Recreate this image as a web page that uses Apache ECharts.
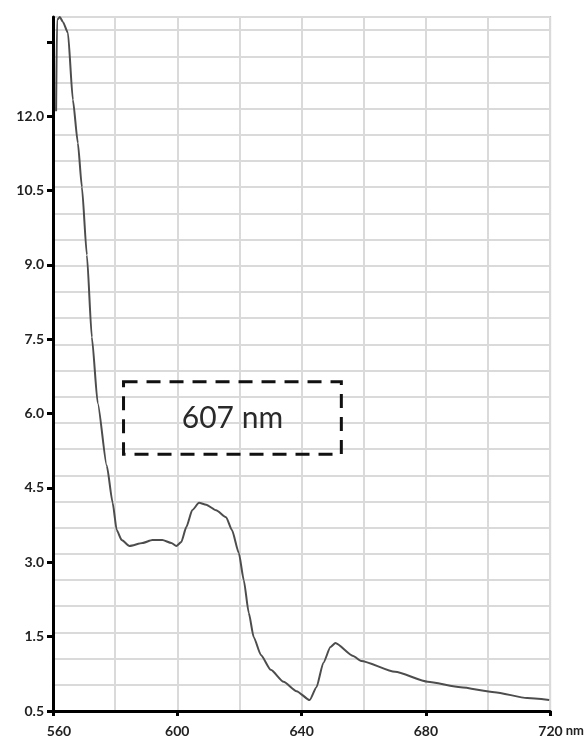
<!DOCTYPE html>
<html>
<head>
<meta charset="utf-8">
<script src="https://cdn.jsdelivr.net/npm/echarts@6/dist/echarts.min.js"></script>
<style>
html,body{margin:0;padding:0;background:#fff;}
#chart{width:587px;height:742px;}
</style>
</head>
<body>
<div id="chart"></div>
<script>
// ---- data ----
const wavelength = [561.0, 561.3, 562.2, 563.2, 564.8, 566.4, 568.0, 569.3, 570.9, 572.5,
  574.4, 577.3, 579.2, 580.5, 582.1, 584.6, 588.8, 592.0, 595.2, 598.1,
  599.7, 601.3, 602.9, 604.8, 607.0, 609.3, 612.5, 615.7, 617.6, 619.8,
  621.4, 623.0, 624.6, 626.9, 630.1, 634.2, 638.4, 642.6, 644.8, 647.0,
  649.3, 650.9, 656.6, 659.2, 670.1, 680.6, 691.2, 702.1, 712.6, 719.7];
const absorbance = [12.1, 13.94, 14.0, 13.9, 13.68, 12.33, 11.46, 10.57, 9.2, 7.54,
  6.21, 4.95, 4.20, 3.65, 3.45, 3.33, 3.39, 3.45, 3.45, 3.39,
  3.33, 3.41, 3.71, 4.05, 4.20, 4.16, 4.05, 3.91, 3.65, 3.19,
  2.64, 1.98, 1.49, 1.13, 0.83, 0.59, 0.40, 0.22, 0.48, 0.97,
  1.29, 1.37, 1.11, 1.01, 0.79, 0.59, 0.48, 0.38, 0.26, 0.22];
const xTickValues = [560, 600, 640, 680, 720];
const xTickLabels = ['560', '600', '640', '680', '720'];
const xUnit = 'nm';
const yTickValues = [0, 1.5, 3.0, 4.5, 6.0, 7.5, 9.0, 10.5, 12.0, 13.5];
const yTickLabels = ['0.5', '1.5', '3.0', '4.5', '6.0', '7.5', '9.0', '10.5', '12.0', ''];
const annotationText = '607 nm';
const annotationX = [582.7, 652.8];
const annotationY = [5.18, 6.64];

const seriesData = wavelength.map((w, i) => [w, absorbance[i]]);

function lookup(vals, labels, v) {
  for (let i = 0; i < vals.length; i++) {
    if (Math.abs(vals[i] - v) < 1e-6) return labels[i];
  }
  return '';
}

const chart = echarts.init(document.getElementById('chart'));
const labelFont = { fontFamily: 'Lato', fontWeight: 'bold', fontSize: 14, color: '#222' };

chart.setOption({
  animation: false,
  backgroundColor: '#fff',
  grid: {
    left: 53, right: 34, top: 17, bottom: 31,
    show: true, borderColor: '#c4c4c4', borderWidth: 2, backgroundColor: 'transparent'
  },
  xAxis: [
    {
      type: 'value', min: 560, max: 720, interval: 40, z: 5,
      axisLine: { show: true, lineStyle: { color: '#000', width: 3 } },
      axisTick: { show: true, length: 5, lineStyle: { color: '#000', width: 3 } },
      splitLine: { show: false },
      axisLabel: Object.assign({}, labelFont, {
        margin: 13,
        formatter: function (v) {
          const t = lookup(xTickValues, xTickLabels, v);
          if (v === xTickValues[xTickValues.length - 1]) return '{p|}{v|' + t + '}{u| ' + xUnit + '}';
          if (v === xTickValues[0]) return '{q|}{v|' + t + '}';
          return '{v|' + t + '}';
        },
        rich: {
          v: { fontFamily: 'Lato', fontWeight: 'bold', fontSize: 14, color: '#222' },
          u: { fontFamily: 'Lato', fontWeight: 'bold', fontSize: 13, color: '#222' },
          p: { width: 22 },
          q: { width: 12 }
        }
      })
    },
    {
      type: 'value', min: 560, max: 720, interval: 20, position: 'bottom', z: 1,
      axisLine: { show: false }, axisTick: { show: false }, axisLabel: { show: false },
      splitLine: { show: true, lineStyle: { color: '#dadada', width: 2 } }
    }
  ],
  yAxis: [
    {
      type: 'value', min: 0, max: 14, interval: 1.5, z: 5,
      axisLine: { show: true, lineStyle: { color: '#000', width: 3 } },
      axisTick: { show: true, length: 6, customValues: yTickValues, lineStyle: { color: '#000', width: 3 } },
      splitLine: { show: false },
      axisLabel: Object.assign({}, labelFont, {
        margin: 9,
        customValues: yTickValues,
        formatter: function (v) { return lookup(yTickValues, yTickLabels, v); }
      })
    },
    {
      type: 'value', min: 0, max: 26.5, interval: 1, position: 'right', z: 1,
      axisLine: { show: false }, axisTick: { show: false }, axisLabel: { show: false },
      splitLine: { show: true, lineStyle: { color: '#dadada', width: 2 } }
    }
  ],
  series: [
    {
      type: 'line',
      xAxisIndex: 0, yAxisIndex: 0,
      data: seriesData,
      showSymbol: false,
      smooth: 0.2,
      smoothMonotone: 'x',
      clip: true,
      lineStyle: { color: '#4d4d4d', width: 2 },
      z: 3,
      markArea: {
        silent: true,
        itemStyle: {
          color: 'rgba(0,0,0,0)',
          borderColor: '#111',
          borderWidth: 3,
          borderType: [14, 9]
        },
        label: {
          show: true, position: 'inside',
          fontFamily: 'Lato', fontSize: 30, color: '#2a2a2a'
        },
        data: [[
          { name: annotationText, xAxis: annotationX[0], yAxis: annotationY[1] },
          { xAxis: annotationX[1], yAxis: annotationY[0] }
        ]]
      }
    }
  ]
});
</script>
</body>
</html>
